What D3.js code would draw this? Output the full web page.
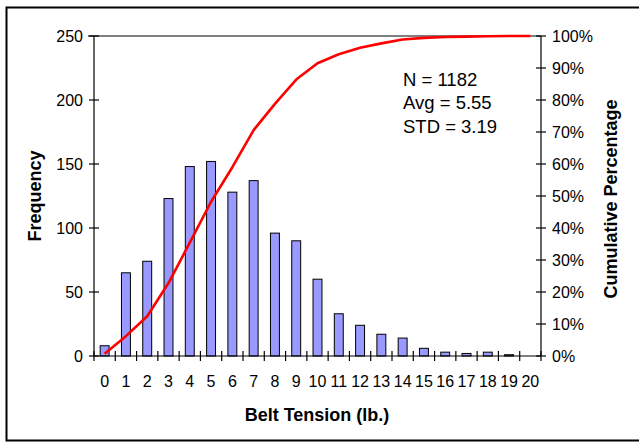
<!DOCTYPE html>
<html><head><meta charset="utf-8">
<script src="https://cdn.jsdelivr.net/npm/d3@7/dist/d3.min.js"></script>
<style>body{margin:0;background:#fff;}svg{display:block;font-family:"Liberation Sans",Arial,sans-serif;}</style>
</head><body>
<svg id="c" width="639" height="443"></svg>
<script>
const categories = ["0","1","2","3","4","5","6","7","8","9","10","11","12","13","14","15","16","17","18","19","20"];
const frequency = [8,65,74,123,148,152,128,137,96,90,60,33,24,17,14,6,3,2,3,1,0];
const cumulativePct = [0.7,6.2,12.4,22.8,35.4,48.2,59.0,70.6,78.8,86.4,91.5,94.3,96.3,97.7,98.9,99.4,99.7,99.8,99.9,100,100];
const freqTicks = [0,50,100,150,200,250];
const pctTicks = [0,10,20,30,40,50,60,70,80,90,100];
const stats = ["N = 1182","Avg = 5.55","STD = 3.19"];

const L=94, R=541, T=36, B=356;
const svg = d3.select("#c");
const x = d3.scaleBand().domain(categories).range([L,R]).padding(0);
const y = d3.scaleLinear().domain([0,250]).range([B,T]);
const y2 = d3.scaleLinear().domain([0,100]).range([B,T]);
const bw = x.bandwidth();

// outer frame
svg.append("rect").attr("x",6.5).attr("y",7.5).attr("width",640).attr("height",433)
  .attr("fill","none").attr("stroke","#000").attr("stroke-width",2);

// bars
svg.append("g").selectAll("rect").data(frequency).join("rect")
  .attr("x",(d,i)=>x(categories[i])+bw*0.29)
  .attr("width",bw*0.42)
  .attr("y",d=>y(d))
  .attr("height",d=>B-y(d))
  .attr("fill","#9999ff").attr("stroke","#000").attr("stroke-width",1);

// axes lines
const ax = svg.append("g").attr("stroke","#000").attr("stroke-width",1.2);
ax.append("line").attr("x1",L).attr("x2",R).attr("y1",B).attr("y2",B);
ax.append("line").attr("x1",L).attr("x2",L).attr("y1",T).attr("y2",B);
ax.append("line").attr("x1",R).attr("x2",R).attr("y1",T).attr("y2",B);
ax.append("line").attr("x1",L-6).attr("x2",R).attr("y1",T).attr("y2",T);
ax.selectAll(".lt").data(freqTicks).join("line").attr("class","lt")
  .attr("x1",L-5).attr("x2",L+5).attr("y1",d=>y(d)).attr("y2",d=>y(d));
ax.selectAll(".rt").data(pctTicks).join("line").attr("class","rt")
  .attr("x1",R-5).attr("x2",R+5).attr("y1",d=>y2(d)).attr("y2",d=>y2(d));
const bounds = categories.map(c=>x(c)).concat([R]);
ax.selectAll(".bt").data(bounds).join("line").attr("class","bt")
  .attr("x1",d=>d).attr("x2",d=>d).attr("y1",B-5).attr("y2",B+5);

// tick labels
const fs = 16;
svg.append("g").selectAll("text").data(freqTicks).join("text")
  .attr("x",L-11).attr("y",d=>y(d)).attr("dy","0.35em").attr("text-anchor","end")
  .attr("font-size",fs).text(d=>d);
svg.append("g").selectAll("text").data(pctTicks).join("text")
  .attr("x",R+11).attr("y",d=>y2(d)).attr("dy","0.35em").attr("text-anchor","start")
  .attr("font-size",fs).text(d=>d+"%");
svg.append("g").selectAll("text").data(categories).join("text")
  .attr("x",d=>x(d)+bw/2).attr("y",387).attr("text-anchor","middle")
  .attr("font-size",fs).text(d=>d);

// cumulative line
const line = d3.line().x((d,i)=>x(categories[i])+bw/2).y(d=>y2(d));
svg.append("path").datum(cumulativePct).attr("d",line)
  .attr("fill","none").attr("stroke","#ff0000").attr("stroke-width",2.6).attr("stroke-linejoin","round");

// titles
svg.append("text").attr("x",317).attr("y",421).attr("text-anchor","middle")
  .attr("font-size",18).attr("font-weight","bold").text("Belt Tension (lb.)");
svg.append("text").attr("transform","translate(41,196) rotate(-90)").attr("text-anchor","middle")
  .attr("font-size",18).attr("font-weight","bold").text("Frequency");
svg.append("text").attr("transform","translate(617,199) rotate(-90)").attr("text-anchor","middle")
  .attr("font-size",18).attr("font-weight","bold").text("Cumulative Percentage");

// stats
svg.append("g").selectAll("text").data(stats).join("text")
  .attr("x",403).attr("y",(d,i)=>85.5+i*23.6).attr("font-size",18.5).text(d=>d);
</script>
</body></html>
